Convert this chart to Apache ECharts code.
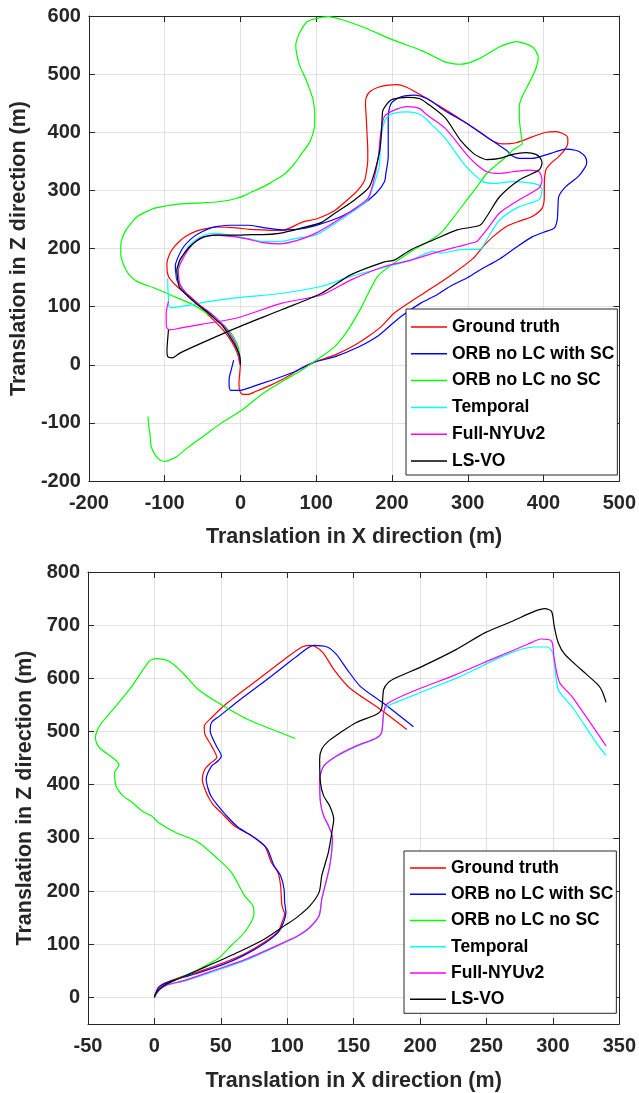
<!DOCTYPE html>
<html>
<head>
<meta charset="utf-8">
<script src="https://cdn.jsdelivr.net/npm/echarts@6/dist/echarts.min.js"></script>
<style>
html,body{margin:0;padding:0;background:#fff;}
#chart{width:639px;height:1093px;}
</style>
</head>
<body>
<div id="chart"></div>
<script>
// ---------- names ----------
const seriesNames = ['Ground truth', 'ORB no LC with SC', 'ORB no LC no SC', 'Temporal', 'Full-NYUv2', 'LS-VO'];
const seriesColors = ['#ff0000', '#0000ff', '#00ff00', '#00ffff', '#ff00ff', '#000000'];
const xTitle = 'Translation in X direction (m)';
const zTitle = 'Translation in Z direction (m)';

// ---------- axis ranges / ticks ----------
const topXRange = [-200, 500, 100];
const topZRange = [-200, 600, 100];
const botXRange = [-50, 350, 50];
const botZRange = [-50, 800];
const botZTicks = [0, 100, 200, 300, 400, 500, 600, 700, 800];

// ---------- top plot trajectories [x, z] ----------
const topGroundTruth = [[0,0],[-1,-15],[-2,-32],[-1,-45],[3,-51],[10,-51],[20,-46],[40,-35],[60,-22],[81,-5],[98,5],[125,17],[150,33],[168,48],[186,66],[203,89],[225,109],[255,134],[281,157],[307,183],[320,203],[333,220],[351,238],[370,248],[385,255],[398,269],[401,290],[401,306],[403,335],[410,347],[420,358],[428,370],[432,381],[432,390],[428,396],[416,401],[403,400],[385,392],[364,382],[346,380],[333,385],[310,405],[285,427],[260,447],[238,464],[220,477],[207,482],[195,481],[181,477],[171,470],[166,460],[165,450],[166,425],[167,398],[168,370],[168,352],[166,330],[164,318],[158,305],[151,295],[138,280],[125,266],[103,252],[81,245],[55,231],[30,232],[12,233],[-10,236],[-32,237],[-50,233],[-60,229],[-72,221],[-80,213],[-88,202],[-93,192],[-97,175],[-97,165],[-95,152],[-90,143],[-84,135],[-75,125],[-66,117],[-55,103],[-45,89],[-34,75],[-23,60],[-15,46],[-8,31],[-3,15],[-1,0]];
const topOrbWithSC = [[-9,8],[-12,-8],[-15,-25],[-15,-37],[-13,-44],[-6,-44],[0,-44],[15,-38],[40,-27],[70,-13],[97,4],[125,14],[155,30],[181,49],[200,70],[212,83],[238,106],[260,121],[277,135],[300,150],[316,163],[342,182],[365,203],[385,220],[400,228],[414,235],[418,249],[419,270],[420,289],[429,306],[446,324],[455,340],[457,348],[455,358],[448,366],[442,369],[429,371],[415,366],[403,361],[385,355],[368,355],[358,360],[351,369],[325,392],[299,415],[270,437],[246,458],[229,464],[212,461],[199,450],[195,427],[195,400],[195,358],[192,330],[190,315],[179,295],[160,275],[133,255],[103,241],[81,234],[55,232],[30,236],[10,240],[-14,240],[-30,238],[-40,235],[-52,228],[-62,220],[-75,203],[-84,180],[-86,169],[-85,155],[-84,146],[-76,130],[-67,115],[-55,103],[-40,89],[-28,75],[-19,60],[-11,45],[-6,31],[-2,15],[0,3]];
const topOrbNoSC = [[0,0],[-1,15],[-3,31],[-8,45],[-14,57],[-27,74],[-45,89],[-62,103],[-85,116],[-114,132],[-136,143],[-145,152],[-151,163],[-156,178],[-158,192],[-158,205],[-156,218],[-151,232],[-144,244],[-136,255],[-125,263],[-114,269],[-100,273],[-85,276],[-60,278],[-32,280],[-15,283],[-6,286],[5,291],[16,298],[30,306],[42,315],[55,325],[64,335],[73,349],[81,364],[90,380],[95,395],[98,415],[98,430],[96,455],[91,475],[85,495],[78,515],[74,536],[73,550],[76,565],[82,580],[88,590],[100,596],[116,599],[133,594],[160,582],[203,558],[240,540],[268,522],[280,518],[290,517],[300,519],[307,522],[320,530],[342,547],[354,553],[364,556],[375,553],[385,547],[391,537],[393,528],[390,510],[383,490],[372,462],[368,445],[368,425],[370,400],[372,381],[360,370],[351,358],[337,343],[325,329],[312,306],[299,284],[282,255],[264,226],[248,212],[225,195],[203,175],[181,152],[160,100],[142,60],[125,32],[107,14],[81,-9],[60,-25],[30,-49],[3,-77],[-25,-100],[-49,-123],[-70,-143],[-84,-158],[-95,-165],[-101,-166],[-108,-162],[-114,-152],[-118,-140],[-119,-125],[-121,-105],[-122,-89]];
const topTemporal = [[0,0],[-2,15],[-6,31],[-11,45],[-19,60],[-29,75],[-41,89],[-55,103],[-67,116],[-77,130],[-83,145],[-84,163],[-82,175],[-79,182],[-74,192],[-69,203],[-62,212],[-54,219],[-43,225],[-32,226],[-15,223],[-6,221],[10,217],[30,212],[51,212],[75,218],[99,223],[125,243],[151,266],[168,284],[175,306],[183,341],[185,381],[188,410],[194,427],[203,433],[220,435],[238,430],[251,415],[270,390],[294,347],[307,329],[320,315],[333,312],[359,315],[381,313],[394,309],[398,301],[394,284],[368,272],[342,249],[325,215],[316,199],[290,198],[264,192],[255,195],[225,180],[203,172],[146,152],[107,135],[55,123],[-6,115],[-40,109],[-70,102],[-85,99],[-91,98],[-95,103],[-95,115],[-96,135],[-96,149]];
const topFullNYU = [[0,0],[-2,15],[-5,31],[-10,45],[-21,66],[-32,79],[-43,92],[-56,105],[-69,120],[-78,133],[-81,145],[-82,163],[-80,172],[-77,180],[-72,192],[-66,203],[-60,211],[-54,217],[-43,222],[-32,223],[-15,221],[-6,220],[10,216],[30,210],[51,208],[75,214],[99,226],[125,246],[151,269],[168,286],[175,312],[182,358],[185,398],[190,427],[203,438],[220,444],[236,441],[246,430],[270,407],[299,361],[312,344],[325,332],[342,329],[359,332],[381,335],[394,332],[398,318],[394,304],[368,284],[342,261],[325,232],[316,218],[312,212],[286,203],[255,192],[225,180],[190,169],[146,146],[107,120],[55,106],[-6,80],[-50,70],[-80,63],[-92,60],[-97,63],[-98,70],[-98,89],[-95,109]];
const topLSVO = [[0,0],[-1,15],[-6,31],[-14,48],[-23,66],[-34,79],[-45,92],[-58,105],[-71,120],[-80,132],[-82,140],[-84,163],[-82,172],[-80,180],[-74,192],[-67,203],[-58,213],[-48,220],[-32,223],[-15,223],[-6,223],[15,224],[30,224],[51,226],[80,235],[107,245],[125,261],[151,284],[170,306],[179,341],[184,370],[186,398],[187,425],[188,438],[198,455],[210,459],[220,460],[236,458],[246,450],[270,425],[290,387],[307,364],[316,357],[325,353],[342,355],[359,362],[377,365],[390,362],[396,355],[398,347],[394,335],[368,318],[342,289],[325,255],[316,240],[286,232],[255,215],[225,198],[203,180],[190,177],[146,155],[107,123],[55,95],[-6,63],[-50,38],[-80,20],[-90,12],[-96,14],[-97,25],[-96,45],[-95,60]];

// ---------- bottom plot trajectories [x, z] ----------
const botGroundTruth = [[0,0],[1,8],[3,19],[7,26],[13,32],[22,40],[33,48],[53,66],[68,82],[83,104],[93,123],[96,141],[98,157],[96,173],[95,210],[93,235],[88,254],[83,285],[73,304],[60,323],[50,348],[45,360],[41,375],[38,392],[36,410],[38,429],[43,442],[47,451],[43,473],[38,495],[37.5,510],[43,526],[55,554],[78,598],[98,636],[111,659],[117,662],[121,660],[127,648],[135,617],[147,582],[170,542],[190,504]];
const botOrbWithSC = [[0,0],[1,8],[3,18],[7,25],[13,31],[22,38],[33,46],[53,63],[68,80],[83,102],[93,122],[97,140],[99,160],[98,180],[97.6,204],[95,229],[90,248],[85,279],[75,301],[63,320],[53,345],[48,360],[43,377],[40.5,392],[39,410],[43,435],[48,445],[50.4,454],[46.6,473],[42,501],[43,517],[49,529],[63,557],[88,604],[107.5,642],[120,662],[130,659],[137,645],[145,617],[155,585],[172,554],[195,509]];
const botOrbNoSC = [[0,0],[2,8],[5,18],[12,28],[23,41],[35,55],[48,73],[58,98],[68,123],[75,157],[74,173],[68,191],[58,235],[48,260],[33,292],[16,310],[3,329],[-2,341],[-9,350],[-17,367],[-24,380],[-29,398],[-30,423],[-26.6,437],[-30,448],[-41.5,470],[-44.5,488],[-41.5,510],[-29,548],[-17,585],[-4,632],[1,637],[11,632],[21,611],[33,579],[48,554],[70,523],[106,487]];
const botTemporal = [[0,0],[1,6],[4,15],[10,24],[23,31],[45,49],[70,71],[98,103],[108,115],[117,131],[124,153],[126,184],[132,247],[134,300],[131,323],[127.4,341],[125,367],[124.4,410],[127.4,435],[137,453],[152,472],[167,487],[171,497],[172.6,535],[175,547],[180,553],[227,600],[286,659],[296,659],[300,647],[304,579],[314,548],[333.5,476],[340,455]];
const botFullNYU = [[0,0],[1,6],[4,15],[10,24],[23,32],[45,51],[70,73],[98,104],[108,116],[117,132],[124,154],[126,185],[132,248],[134,301],[131,323],[127.4,341.5],[125,367],[124.4,410],[127.4,435],[137,454],[152,473],[167,488],[171,498],[172.6,535],[174.6,551],[192,573],[227,607],[257,639],[281,664],[291,674],[299,670],[301,636],[305,592],[314,567],[340,473]];
const botLSVO = [[0,0],[1,7],[4,16],[9,25],[18,35],[38,57],[63,85],[83,110],[98,135],[107.5,151],[117,172],[124,198],[126,229],[131,273],[134,317],[135,335],[132,360],[127.4,379],[125,404],[124.4,448],[126,467],[131,482],[140,498],[152,517],[167,532],[171,542],[172.6,579],[176,592],[182,601],[202,623],[227,654],[249,686],[269,707],[286,726],[294,731],[299,726],[301,698],[304,667],[309,645],[321,617],[333.5,589],[337,576],[340,555]];

const topData = [topGroundTruth, topOrbWithSC, topOrbNoSC, topTemporal, topFullNYU, topLSVO];
const botData = [botGroundTruth, botOrbWithSC, botOrbNoSC, botTemporal, botFullNYU, botLSVO];

// ---------- styling ----------
const FONT = "'Liberation Sans', Arial, Helvetica, sans-serif";
const AXIS_COLOR = '#262626';
const GRID_COLOR = '#e2e2e2';

function rangeProps(range) {
  const p = {min: range[0], max: range[1]};
  if (range.length > 2) p.interval = range[2];
  return p;
}
function mainX(gridIndex, range, nameGap) {
  return Object.assign({
    type: 'value', gridIndex, position: 'bottom',
    name: xTitle, nameLocation: 'middle', nameGap,
    nameTextStyle: {fontFamily: FONT, fontWeight: 'bold', fontSize: 21.5, color: AXIS_COLOR},
    axisLine: {show: true, onZero: false, lineStyle: {color: AXIS_COLOR, width: 1}},
    axisTick: {show: true, inside: true, length: 6, lineStyle: {color: AXIS_COLOR}},
    axisLabel: {fontFamily: FONT, fontWeight: 'bold', fontSize: 20, color: AXIS_COLOR, margin: 12},
    splitLine: {show: true, lineStyle: {color: GRID_COLOR, width: 1}}
  }, rangeProps(range));
}
function boxX(gridIndex, range) {
  return Object.assign({
    type: 'value', gridIndex, position: 'top',
    axisLine: {show: true, onZero: false, lineStyle: {color: AXIS_COLOR, width: 1}},
    axisTick: {show: true, inside: true, length: 6, lineStyle: {color: AXIS_COLOR}},
    axisLabel: {show: false}, splitLine: {show: false}
  }, rangeProps(range));
}
function mainY(gridIndex, range, nameGap, ticks) {
  const ax = Object.assign({
    type: 'value', gridIndex, position: 'left',
    name: zTitle, nameLocation: 'middle', nameGap, nameRotate: 90,
    nameTextStyle: {fontFamily: FONT, fontWeight: 'bold', fontSize: 21.5, color: AXIS_COLOR},
    axisLine: {show: true, onZero: false, lineStyle: {color: AXIS_COLOR, width: 1}},
    axisTick: {show: true, inside: true, length: 6, lineStyle: {color: AXIS_COLOR}},
    axisLabel: {fontFamily: FONT, fontWeight: 'bold', fontSize: 20, color: AXIS_COLOR, margin: 8},
    splitLine: {show: true, lineStyle: {color: GRID_COLOR, width: 1}}
  }, rangeProps(range));
  if (ticks) {
    ax.axisTick.customValues = ticks;
    ax.axisLabel.customValues = ticks;
  }
  return ax;
}
function boxY(gridIndex, range, ticks) {
  const ax = Object.assign({
    type: 'value', gridIndex, position: 'right',
    axisLine: {show: true, onZero: false, lineStyle: {color: AXIS_COLOR, width: 1}},
    axisTick: {show: true, inside: true, length: 6, lineStyle: {color: AXIS_COLOR}},
    axisLabel: {show: false}, splitLine: {show: false}
  }, rangeProps(range));
  if (ticks) {
    ax.axisTick.customValues = ticks;
    ax.axisLabel.customValues = ticks;
  }
  return ax;
}
function legendAt(left, top, padding, itemGap) {
  return {
    orient: 'vertical', left, top, padding, itemGap,
    data: seriesNames,
    icon: 'rect', itemWidth: 36, itemHeight: 1.5,
    backgroundColor: '#ffffff', borderColor: AXIS_COLOR, borderWidth: 1, borderRadius: 0,
    textStyle: {fontFamily: FONT, fontWeight: 'bold', fontSize: 17.5, color: '#000', lineHeight: 20},
    selectedMode: false
  };
}

const series = [];
seriesNames.forEach((name, i) => {
  series.push({
    name, type: 'line', xAxisIndex: 0, yAxisIndex: 0, data: topData[i],
    showSymbol: false, symbol: 'none', smooth: 0.25, color: seriesColors[i],
    lineStyle: {width: 1.2, color: seriesColors[i]}, animation: false, z: 2 + i
  });
});
seriesNames.forEach((name, i) => {
  series.push({
    name, type: 'line', xAxisIndex: 2, yAxisIndex: 2, data: botData[i],
    showSymbol: false, symbol: 'none', smooth: 0.25, color: seriesColors[i],
    lineStyle: {width: 1.2, color: seriesColors[i]}, animation: false, z: 2 + i
  });
});

const chart = echarts.init(document.getElementById('chart'), null, {renderer: 'canvas'});
chart.setOption({
  backgroundColor: '#ffffff',
  animation: false,
  grid: [
    {left: 84, top: 16, width: 537, height: 465, containLabel: false},
    {left: 88, top: 572, width: 538, height: 453, containLabel: false}
  ],
  xAxis: [mainX(0, topXRange, 45), boxX(0, topXRange), mainX(1, botXRange, 46), boxX(1, botXRange)],
  yAxis: [mainY(0, topZRange, 39, null), boxY(0, topZRange, null), mainY(1, botZRange, 32, botZTicks), boxY(1, botZRange, botZTicks)],
  legend: [
    legendAt(406, 309, [8, 3, 4, 5], 6.8),
    legendAt(404, 851, [7, 3, 4, 6], 6.26)
  ],
  series
});
</script>
</body>
</html>
